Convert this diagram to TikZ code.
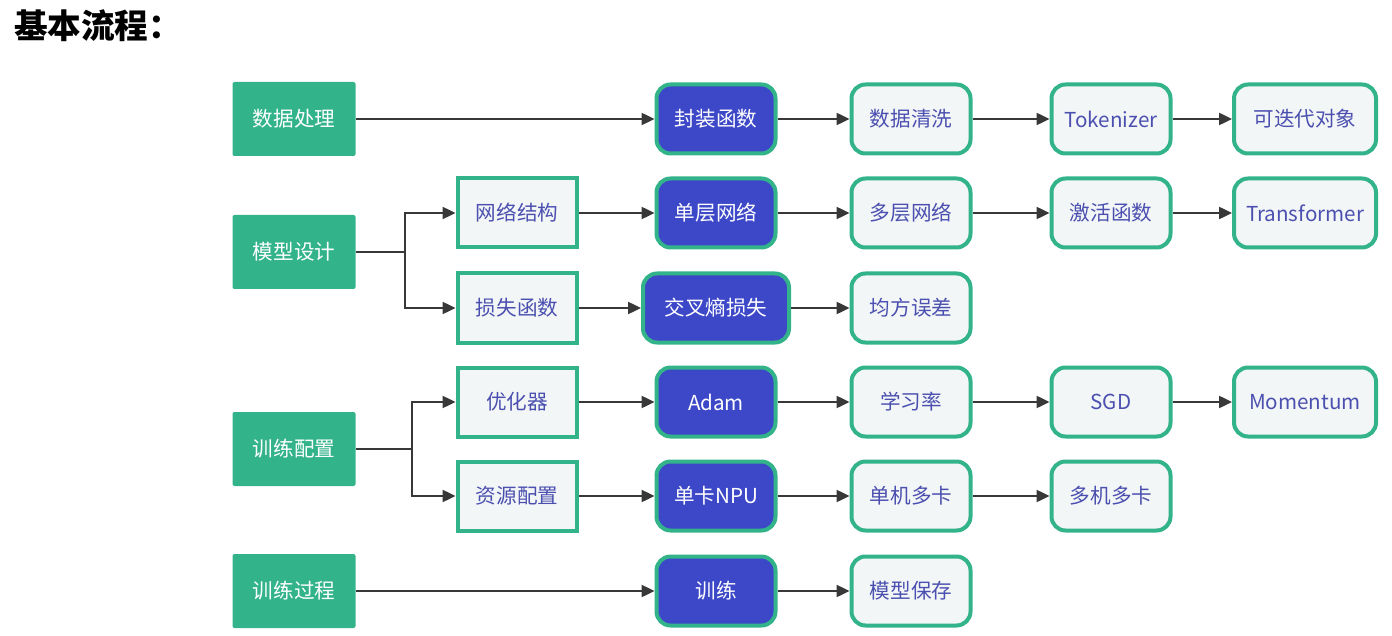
\documentclass[tikz,border=0pt]{standalone}
\usepackage{fontspec}
\newfontfamily\cjk{Noto Sans CJK SC}
\usetikzlibrary{arrows.meta}
\definecolor{flowgreen}{HTML}{33B38A}
\definecolor{flowblue}{HTML}{3D48C8}
\definecolor{flowpale}{HTML}{F3F6F6}
\definecolor{flowtext}{HTML}{4B50B0}
\definecolor{flowline}{HTML}{383838}
\tikzset{
  stage/.style={fill=flowgreen, text=white, minimum width=61.5pt, minimum height=37pt, rounded corners=1pt, font=\cjk\fontsize{10.3}{12}\selectfont},
  part/.style={draw=flowgreen, line width=2pt, fill=flowpale, text=flowtext, minimum width=59.5pt, minimum height=34.5pt, font=\cjk\fontsize{10.3}{12}\selectfont},
  core/.style={draw=flowgreen, line width=2pt, fill=flowblue, text=white, rounded corners=7pt, minimum width=59.5pt, minimum height=34.5pt, font=\cjk\fontsize{10.3}{12}\selectfont},
  item/.style={draw=flowgreen, line width=2pt, fill=flowpale, text=flowtext, rounded corners=7pt, minimum width=59.5pt, minimum height=34.5pt, font=\cjk\fontsize{10.3}{12}\selectfont},
  wide/.style={minimum width=71pt},
  link/.style={draw=flowline, line width=1.2pt, -{Triangle[length=6.5pt,width=6pt]}}
}
\begin{document}
\begin{tikzpicture}[x=0.5pt, y=-0.5pt]
\useasboundingbox (0,0) rectangle (1392,636);
%title
\node[anchor=west, font=\cjk\bfseries\fontsize{16.8}{20}\selectfont] (title) at (7,26) {基本流程：};

%stages
\node[stage] (data) at (294,119) {数据处理};
\node[stage] (model) at (294,252) {模型设计};
\node[stage] (setup) at (294,449) {训练配置};
\node[stage] (run) at (294,591) {训练过程};

%parts
\node[part] (net) at (517,213) {网络结构};
\node[part] (loss) at (517,308) {损失函数};
\node[part] (optim) at (517,402) {优化器};
\node[part] (res) at (517,496) {资源配置};

%core
\node[core] (wrap) at (716,119) {封装函数};
\node[core] (single) at (716,213) {单层网络};
\node[core, minimum width=73pt] (ce) at (716,308) {交叉熵损失};
\node[core] (adam) at (716,402) {Adam};
\node[core] (npu) at (716,496) {单卡NPU};
\node[core] (fit) at (716,591) {训练};

%next steps
\node[item] (clean) at (911,119) {数据清洗};
\node[item] (multi) at (911,213) {多层网络};
\node[item] (mse) at (911,308) {均方误差};
\node[item] (lr) at (911,402) {学习率};
\node[item] (onehost) at (911,496) {单机多卡};
\node[item] (save) at (911,591) {模型保存};

\node[item] (tok) at (1111,119) {Tokenizer};
\node[item] (act) at (1111,213) {激活函数};
\node[item] (sgd) at (1111,402) {SGD};
\node[item] (hosts) at (1111,496) {多机多卡};

\node[item, wide] (iter) at (1305,119) {可迭代对象};
\node[item, wide] (trans) at (1305,213) {Transformer};
\node[item, wide] (mom) at (1305,402) {Momentum};

%links
\foreach \a/\b in {data/wrap, wrap/clean, clean/tok, tok/iter,
  net/single, single/multi, multi/act, act/trans,
  loss/ce, ce/mse,
  optim/adam, adam/lr, lr/sgd, sgd/mom,
  res/npu, npu/onehost, onehost/hosts,
  run/fit, fit/save}
  \draw[link] (\a) -- (\b);

\draw[link] (model.east) -- ++(49,0) |- (net.west);
\draw[link] (model.east) -- ++(49,0) |- (loss.west);
\draw[link] (setup.east) -- ++(56,0) |- (optim.west);
\draw[link] (setup.east) -- ++(56,0) |- (res.west);

\end{tikzpicture}
\end{document}
